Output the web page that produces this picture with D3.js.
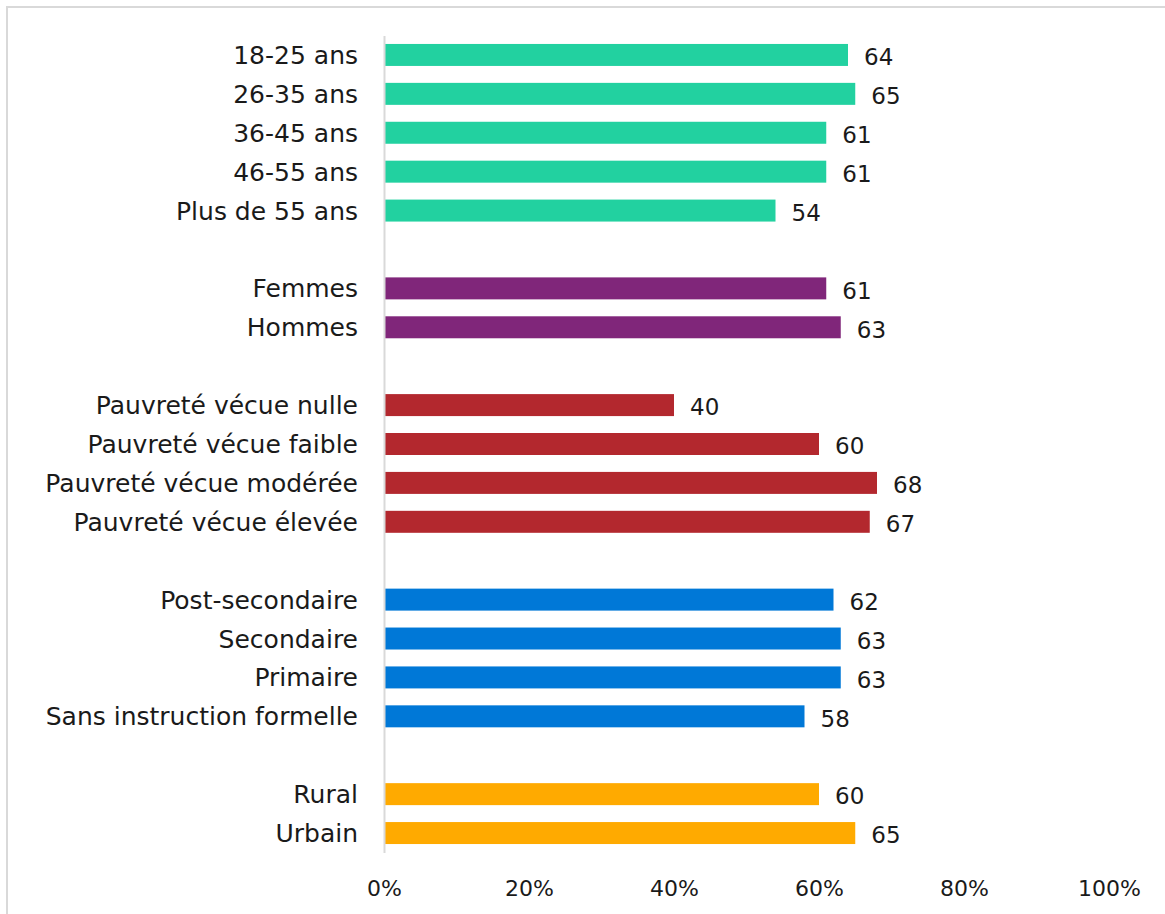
<!DOCTYPE html>
<html lang="fr">
<head>
<meta charset="utf-8">
<script src="https://cdn.jsdelivr.net/npm/d3@7"></script>
<style>
  html, body { margin: 0; padding: 0; background: #fff; }
  svg { display: block; font-family: "DejaVu Sans", sans-serif; }
</style>
</head>
<body>
<svg id="chart" width="1165" height="914"></svg>
<script>
// Categories, grouped; a blank row separates each group
const ageCategories = ["18-25 ans", "26-35 ans", "36-45 ans", "46-55 ans", "Plus de 55 ans"];
const ageValues = [64, 65, 61, 61, 54];

const sexCategories = ["Femmes", "Hommes"];
const sexValues = [61, 63];

const povertyCategories = ["Pauvreté vécue nulle", "Pauvreté vécue faible", "Pauvreté vécue modérée", "Pauvreté vécue élevée"];
const povertyValues = [40, 60, 68, 67];

const educationCategories = ["Post-secondaire", "Secondaire", "Primaire", "Sans instruction formelle"];
const educationValues = [62, 63, 63, 58];

const areaCategories = ["Rural", "Urbain"];
const areaValues = [60, 65];

const groupColors = ["#22d1a0", "#80267a", "#b3282e", "#0078d7", "#ffaa00"];

const xTicks = [0, 20, 40, 60, 80, 100];

// Build rows, inserting a spacer slot between groups
const groupList = [
  [ageCategories, ageValues],
  [sexCategories, sexValues],
  [povertyCategories, povertyValues],
  [educationCategories, educationValues],
  [areaCategories, areaValues]
];
const rows = [];
const slots = [];
groupList.forEach(([cats, vals], gi) => {
  if (gi > 0) slots.push("__gap" + gi);
  cats.forEach((c, i) => {
    rows.push({ label: c, value: vals[i], color: groupColors[gi] });
    slots.push(c);
  });
});

const svg = d3.select("#chart");

// Outer frame
svg.append("rect")
  .attr("x", 7).attr("y", 7)
  .attr("width", 1300).attr("height", 1100)
  .attr("fill", "none")
  .attr("stroke", "#d9d9d9")
  .attr("stroke-width", 2);

const plotLeft = 384, plotRight = 1109, plotTop = 35.5, plotBottom = 852.5;

const x = d3.scaleLinear().domain([0, 100]).range([plotLeft, plotRight]);
const y = d3.scaleBand().domain(slots).range([plotTop, plotBottom])
  .paddingInner(0.435).paddingOuter(0.2175);

// Bars
svg.append("g").selectAll("rect")
  .data(rows)
  .join("rect")
  .attr("x", x(0) + 1)
  .attr("y", d => y(d.label))
  .attr("width", d => x(d.value) - x(0) - 1)
  .attr("height", y.bandwidth())
  .attr("fill", d => d.color);

// Value labels
svg.append("g").selectAll("text")
  .data(rows)
  .join("text")
  .attr("x", d => x(d.value) + 16)
  .attr("y", d => y(d.label) + y.bandwidth() / 2 + 2)
  .attr("dy", "0.36em")
  .attr("font-size", 23)
  .attr("fill", "#1a1a1a")
  .text(d => d.value);

// Category axis
const yAxis = svg.append("g")
  .attr("transform", `translate(${plotLeft},0)`)
  .call(d3.axisLeft(y)
    .tickValues(rows.map(d => d.label))
    .tickSize(0)
    .tickPadding(26));
yAxis.select(".domain").attr("stroke", "#d9d9d9").attr("stroke-width", 2);
yAxis.selectAll("text")
  .attr("font-size", 25)
  .attr("font-family", "'DejaVu Sans', sans-serif")
  .attr("fill", "#1a1a1a")
  .attr("dy", "0.36em");

// Percentage axis
const xAxis = svg.append("g")
  .attr("transform", `translate(0,${plotBottom})`)
  .call(d3.axisBottom(x)
    .tickValues(xTicks)
    .tickFormat(d => d + "%")
    .tickSize(0)
    .tickPadding(28));
xAxis.select(".domain").remove();
xAxis.selectAll("text")
  .attr("font-size", 22)
  .attr("font-family", "'DejaVu Sans', sans-serif")
  .attr("fill", "#1a1a1a");
</script>
</body>
</html>
